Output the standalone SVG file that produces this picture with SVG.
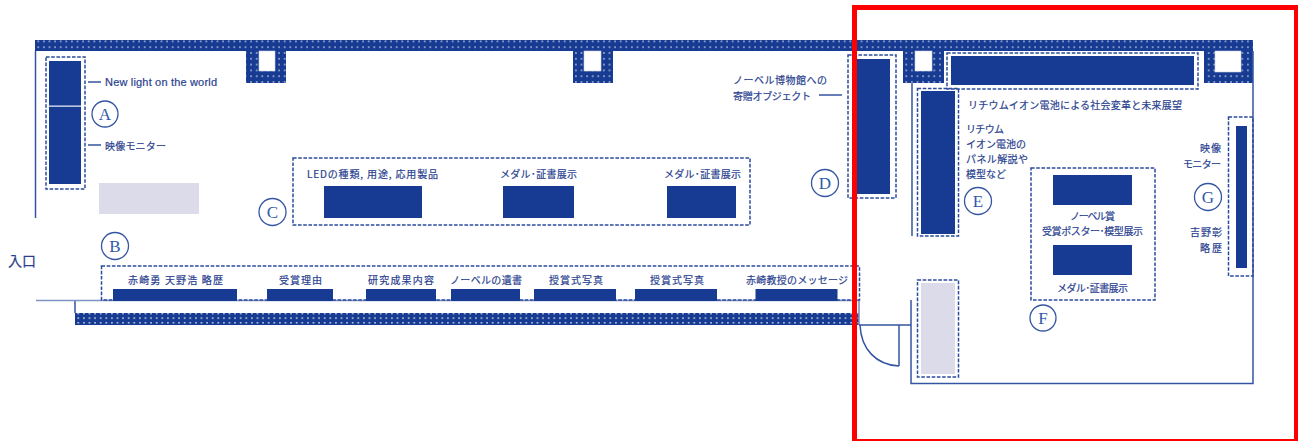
<svg xmlns="http://www.w3.org/2000/svg" width="1298" height="441" viewBox="0 0 1298 441">
<style>
.n{fill:#173b92}
.g{fill:#dcdbea}
.d{fill:none;stroke:#2b4b9c;stroke-width:1.5;stroke-dasharray:3.6 1.6}
.l{fill:none;stroke:#3555a3;stroke-width:1.5}
.s{fill:none;stroke:#7f93c6;stroke-width:1.6}
.c{fill:#fff;stroke:#3555a3;stroke-width:1.3}
.t{font-family:"Noto Sans CJK JP","Liberation Sans",sans-serif;font-size:10px;fill:#2a3f8f;stroke:#2a3f8f;stroke-width:.2;dominant-baseline:central}
.o{font-family:"Liberation Serif",serif;font-size:17px;fill:#2f5aa8;text-anchor:middle;dominant-baseline:central}
</style>
<defs>
<pattern id="dots" patternUnits="userSpaceOnUse" x="35.5" y="38.5" width="5.6" height="5.8">
<rect width="5.6" height="5.8" fill="#173b92"/><circle cx="2.8" cy="2.9" r="0.8" fill="#fff"/>
</pattern>
<pattern id="dots2" patternUnits="userSpaceOnUse" x="75.5" y="315.5" width="5.6" height="4.6">
<rect width="5.6" height="4.6" fill="#173b92"/><circle cx="2.8" cy="2.6" r="0.8" fill="#fff"/>
</pattern>
</defs>

<g id="walls">
<rect x="35" y="40" width="1218" height="11" fill="url(#dots)"/>
<rect x="246" y="51" width="40" height="32" fill="url(#dots)"/><rect x="259" y="51" width="16" height="20" fill="#fff" stroke="#c9cfe4" stroke-width=".6"/>
<rect x="573" y="51" width="40" height="32" fill="url(#dots)"/><rect x="584" y="51" width="17" height="20" fill="#fff" stroke="#c9cfe4" stroke-width=".6"/>
<rect x="903" y="51" width="41" height="32" fill="url(#dots)"/><rect x="915" y="51" width="17" height="20" fill="#fff" stroke="#c9cfe4" stroke-width=".6"/>
<rect x="1204" y="51" width="49" height="32" fill="url(#dots)"/><rect x="1215" y="51" width="26" height="21" fill="#fff" stroke="#c9cfe4" stroke-width=".6"/>
<rect x="75" y="313" width="784" height="12" fill="url(#dots2)"/>
<path class="l" d="M35.5 51V218M75 300.5V313M912 83V236M911 300V383.5H1253V51"/>
<path class="s" d="M36 300.500H859M859 300V325"/>
</g>

<g id="door">
<path class="l" d="M859 325H911M899 325V366M860 325C861 349 876 365 899 366"/>
</g>

<g id="connectors">
<path class="l" d="M88 82H101M88 145H101M819 95H842"/>
</g>

<g id="node-a">
<rect class="d" x="46" y="57" width="39" height="132"/>
<rect class="n" x="49" y="61" width="32" height="123"/>
<rect x="49" y="105.500" width="32" height="1.300" fill="#e4e7f2"/>
<text class="t" x="105" y="82" textLength="112" style="font-family:'Liberation Sans',sans-serif;font-size:11px">New light on the world</text>
<text class="t" x="105" y="145" textLength="61">映像モニター</text>
<circle class="c" cx="105" cy="114" r="13"/><text class="o" x="105" y="114">A</text>
<rect class="g" x="99" y="183" width="100" height="31"/>
</g>

<g id="node-b">
<rect class="d" x="101.500" y="266" width="758" height="34"/>
<rect class="n" x="113" y="289" width="124" height="12"/>
<rect class="n" x="267" y="289" width="66" height="12"/>
<rect class="n" x="366" y="289" width="70" height="12"/>
<rect class="n" x="451" y="289" width="69" height="12"/>
<rect class="n" x="534" y="289" width="82" height="12"/>
<rect class="n" x="635" y="289" width="82" height="12"/>
<rect class="n" x="755.500" y="289" width="82" height="12"/>
<text class="t" x="128" y="279" textLength="95">赤崎勇 天野浩 略歴</text>
<text class="t" x="279" y="279" textLength="43">受賞理由</text>
<text class="t" x="368" y="279" textLength="66">研究成果内容</text>
<text class="t" x="450" y="279" textLength="72">ノーベルの遺書</text>
<text class="t" x="549" y="279" textLength="54">授賞式写真</text>
<text class="t" x="650" y="279" textLength="54">授賞式写真</text>
<text class="t" x="746" y="279" textLength="102">赤崎教授のメッセージ</text>
<circle class="c" cx="115" cy="246" r="13.500"/><text class="o" x="115" y="246">B</text>
</g>

<g id="node-c">
<rect class="d" x="293" y="158" width="457" height="67"/>
<rect class="n" x="324" y="186" width="98" height="32"/>
<rect class="n" x="503" y="186" width="71" height="32"/>
<rect class="n" x="667" y="186" width="69" height="32"/>
<text class="t" x="307" y="173" textLength="131">LEDの種類, 用途, 応用製品</text>
<text class="t" x="500" y="173" textLength="77">メダル･証書展示</text>
<text class="t" x="664" y="173" textLength="77">メダル･証書展示</text>
<circle class="c" cx="272.500" cy="212" r="13.500"/><text class="o" x="272.500" y="212">C</text>
</g>

<g id="node-d">
<rect class="d" x="848" y="55" width="48" height="143"/>
<rect class="n" x="852" y="59" width="38" height="135"/>
<text class="t" x="733" y="79" textLength="94">ノーベル博物館への</text>
<text class="t" x="733" y="95" textLength="78">寄贈オブジェクト</text>
<circle class="c" cx="825" cy="183" r="13.500"/><text class="o" x="825" y="183">D</text>
</g>

<g id="node-e">
<rect class="d" x="947" y="53" width="251" height="36"/>
<rect class="n" x="951" y="56" width="243" height="29"/>
<rect class="d" x="917.500" y="88.500" width="41" height="147.500"/>
<rect class="n" x="921" y="91" width="34" height="143"/>
<rect class="d" x="917.500" y="280" width="41" height="97"/>
<rect class="g" x="921" y="283" width="34" height="91"/>
<text class="t" x="968" y="104" textLength="214">リチウムイオン電池による社会変革と未来展望</text>
<text class="t" x="966" y="128" textLength="38">リチウム</text>
<text class="t" x="966" y="143" textLength="60">イオン電池の</text>
<text class="t" x="966" y="158" textLength="62">パネル解説や</text>
<text class="t" x="966" y="173" textLength="40">模型など</text>
<circle class="c" cx="978" cy="201" r="13.500"/><text class="o" x="978" y="201">E</text>
</g>

<g id="node-f">
<rect class="d" x="1031" y="168" width="124" height="132"/>
<rect class="n" x="1053" y="175" width="79" height="30"/>
<rect class="n" x="1053" y="245" width="79" height="30"/>
<text class="t" x="1070" y="215" textLength="45">ノーベル賞</text>
<text class="t" x="1042" y="230" textLength="101">受賞ポスター･模型展示</text>
<text class="t" x="1057" y="287" textLength="71">メダル･証書展示</text>
<circle class="c" cx="1043" cy="318" r="13"/><text class="o" x="1043" y="318">F</text>
</g>

<g id="node-g">
<rect class="d" x="1228.500" y="117" width="24.500" height="159"/>
<rect class="n" x="1236" y="126" width="11" height="142"/>
<text class="t" x="1200" y="147" textLength="21">映像</text>
<text class="t" x="1183" y="163" textLength="38">モニター</text>
<text class="t" x="1190" y="231" textLength="32">吉野彰</text>
<text class="t" x="1200" y="247" textLength="22">略歴</text>
<circle class="c" cx="1208" cy="197" r="13.500"/><text class="o" x="1208" y="197">G</text>
</g>

<text id="entrance" class="t" x="8" y="260" textLength="28" style="font-size:14px">入口</text>

<rect id="highlight" x="854.500" y="7.500" width="442" height="434" fill="none" stroke="#f00" stroke-width="5"/>
</svg>
